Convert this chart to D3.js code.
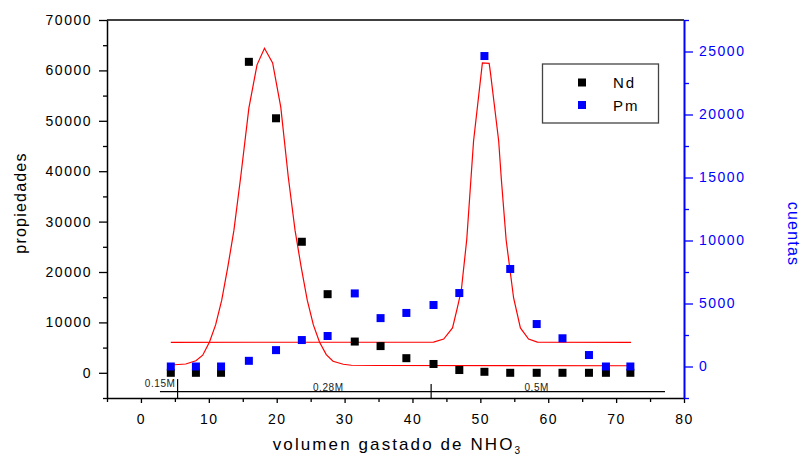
<!DOCTYPE html>
<html>
<head>
<meta charset="utf-8">
<script src="https://cdn.jsdelivr.net/npm/d3@7"></script>
<style>
  body { margin: 0; background: #fff; }
  text { font-family: "Liberation Sans", Arial, sans-serif; }
</style>
</head>
<body>
<script>
// volume of acid (x) for each fraction
const volumen = [4.4, 8.1, 11.8, 15.9, 19.9, 23.7, 27.5, 31.5, 35.3, 39.1, 43.1, 46.9, 50.6, 54.4, 58.3, 62.1, 66.0, 68.5, 72.1];
// Nd (left axis)
const ndVals = [0, 0, 0, 61700, 50500, 26000, 15600, 6200, 5300, 2900, 1750, 550, 200, 0, 0, 0, 0, 0, 0];
// Pm (right axis)
const pmVals = [0, 0, 0, 450, 1300, 2100, 2420, 5800, 3840, 4250, 4880, 5830, 24640, 7740, 3370, 2240, 910, 0, 0];

// fitted curves
const ndFitX = [4.4, 6.6, 8.1, 9.1, 10.1, 11.0, 11.9, 12.8, 13.7, 14.7, 15.9, 17.1, 18.2, 19.4, 20.6, 21.7, 22.7, 23.6, 24.5, 25.4, 26.3, 27.3, 28.3, 29.8, 31.0, 35.0, 72.2];
const ndFitY = [1550, 1750, 2400, 3500, 6100, 9500, 14400, 21000, 28300, 38900, 52500, 61100, 64400, 61500, 52700, 38900, 28300, 21000, 14400, 9500, 6100, 3600, 2300, 1700, 1500, 1450, 1400];
const pmFitX = [4.4, 43.1, 44.6, 45.9, 46.6, 47.2, 48.0, 49.0, 50.3, 51.3, 51.5, 52.7, 53.1, 53.8, 54.9, 55.9, 57.1, 58.4, 72.2];
const pmFitY = [1920, 1940, 2180, 3060, 4640, 6070, 10100, 17900, 24100, 24060, 23270, 17900, 14800, 10040, 5440, 3060, 2180, 1940, 1920];

// concentration steps drawn along the bottom
const concEdges = [2.8, 5.4, 42.75, 77.2];
const concLabels = ["0.15M", "0.28M", "0.5M"];
const concLabelX = [5.1, 27.6, 58.3];

const xTicks = [0, 10, 20, 30, 40, 50, 60, 70, 80];
const xMinor = [-5, 5, 15, 25, 35, 45, 55, 65, 75];
const leftTicks = [0, 10000, 20000, 30000, 40000, 50000, 60000, 70000];
const leftMinor = [-5000, 5000, 15000, 25000, 35000, 45000, 55000, 65000];
const rightTicks = [0, 5000, 10000, 15000, 20000, 25000];
const rightMinor = [-2500, 2500, 7500, 12500, 17500, 22500, 27500];

const width = 803, height = 457;
const plotL = 107, plotR = 684, plotT = 20, plotB = 398;
const blue = "#0000ff";
const fmt = d3.format("d");

const svg = d3.select("body").append("svg")
    .attr("width", width)
    .attr("height", height);

const x = d3.scaleLinear().domain([-5, 80]).range([plotL, plotR]);
const yL = d3.scaleLinear().domain([-5000, 70000]).range([plotB, plotT]);
const yR = d3.scaleLinear().domain([-2500, 27500]).range([plotB, plotT]);

// top frame line
svg.append("line")
    .attr("x1", plotL).attr("x2", plotR)
    .attr("y1", plotT).attr("y2", plotT)
    .attr("stroke", "#000").attr("stroke-width", 1.4);

function styleAxis(g, color, fs) {
    g.selectAll("path").attr("stroke", color).attr("stroke-width", 1.5);
    g.selectAll("line").attr("stroke", color).attr("stroke-width", 1.3);
    g.selectAll("text")
        .attr("fill", color)
        .style("font-size", fs + "px")
        .style("letter-spacing", "1.5px");
}

// bottom axis
const gx = svg.append("g").attr("transform", `translate(0,${plotB})`)
    .call(d3.axisBottom(x).tickValues(xTicks).tickFormat(fmt).tickSize(5).tickSizeOuter(0).tickPadding(11));
styleAxis(gx, "#000", 14);
const gxm = svg.append("g").attr("transform", `translate(0,${plotB})`)
    .call(d3.axisBottom(x).tickValues(xMinor).tickSize(4).tickFormat(""));
gxm.select(".domain").remove();
styleAxis(gxm, "#000", 14);

// left axis
const gl = svg.append("g").attr("transform", `translate(${plotL},0)`)
    .call(d3.axisLeft(yL).tickValues(leftTicks).tickFormat(fmt).tickSize(8).tickSizeOuter(0).tickPadding(7));
styleAxis(gl, "#000", 14);
const glm = svg.append("g").attr("transform", `translate(${plotL},0)`)
    .call(d3.axisLeft(yL).tickValues(leftMinor).tickSize(4).tickFormat(""));
glm.select(".domain").remove();
styleAxis(glm, "#000", 14);

// right axis
const gr = svg.append("g").attr("transform", `translate(${plotR},0)`)
    .call(d3.axisRight(yR).tickValues(rightTicks).tickFormat(fmt).tickSize(9).tickSizeOuter(0).tickPadding(6));
styleAxis(gr, blue, 14);
gr.select(".domain").attr("stroke-width", 2);
const grm = svg.append("g").attr("transform", `translate(${plotR},0)`)
    .call(d3.axisRight(yR).tickValues(rightMinor).tickSize(5).tickFormat(""));
grm.select(".domain").remove();
styleAxis(grm, blue, 14);

// axis titles
const xt = svg.append("text")
    .attr("x", (plotL + plotR) / 2 + 2).attr("y", 450)
    .attr("text-anchor", "middle")
    .style("font-size", "17px").style("letter-spacing", "2.1px");
xt.append("tspan").text("volumen gastado de NHO");
xt.append("tspan").text("3").attr("dy", 4).style("font-size", "10px");

svg.append("text")
    .attr("transform", "translate(26,203) rotate(-90)")
    .attr("text-anchor", "middle")
    .style("font-size", "16px").style("letter-spacing", "1.2px")
    .text("propiedades");

svg.append("text")
    .attr("transform", "translate(788,234) rotate(90)")
    .attr("text-anchor", "middle")
    .attr("fill", blue)
    .style("font-size", "16px").style("letter-spacing", "1.2px")
    .text("cuentas");

// concentration annotation
svg.append("line")
    .attr("x1", x(concEdges[0])).attr("x2", x(concEdges[3]))
    .attr("y1", yL(-3750)).attr("y2", yL(-3750))
    .attr("stroke", "#000").attr("stroke-width", 1.2);
svg.selectAll("line.edge")
    .data(concEdges.slice(1, 3))
    .join("line").attr("class", "edge")
    .attr("x1", d => x(d)).attr("x2", d => x(d))
    .attr("y1", (d, i) => yL(i === 0 ? -1250 : -2200))
    .attr("y2", yL(-5000))
    .attr("stroke", "#000").attr("stroke-width", 1.2);
svg.selectAll("text.conc")
    .data(concLabels)
    .join("text").attr("class", "conc")
    .attr("x", (d, i) => x(concLabelX[i]))
    .attr("y", (d, i) => i === 0 ? 386.5 : 391)
    .attr("text-anchor", (d, i) => i === 0 ? "end" : "middle")
    .attr("fill", "#222")
    .style("font-size", "10px").style("letter-spacing", "0.6px")
    .text(d => d);

// fitted curves
const lineL = d3.line().x(d => x(d[0])).y(d => yL(d[1]));
const lineR = d3.line().x(d => x(d[0])).y(d => yR(d[1]));
svg.append("path")
    .attr("d", lineL(ndFitX.map((v, i) => [v, ndFitY[i]])))
    .attr("fill", "none").attr("stroke", "#ff0000").attr("stroke-width", 1.2);
svg.append("path")
    .attr("d", lineR(pmFitX.map((v, i) => [v, pmFitY[i]])))
    .attr("fill", "none").attr("stroke", "#ff0000").attr("stroke-width", 1.2);

// points
const sq = 8;
svg.append("g").selectAll("rect")
    .data(volumen.map((v, i) => [v, ndVals[i]]))
    .join("rect")
    .attr("x", d => x(d[0]) - sq / 2).attr("y", d => yL(d[1]) - sq / 2)
    .attr("width", sq).attr("height", sq)
    .attr("fill", "#000");
svg.append("g").selectAll("rect")
    .data(volumen.map((v, i) => [v, pmVals[i]]))
    .join("rect")
    .attr("x", d => x(d[0]) - sq / 2).attr("y", d => yR(d[1]) - sq / 2)
    .attr("width", sq).attr("height", sq)
    .attr("fill", blue);

// legend
const lg = svg.append("g");
lg.append("rect")
    .attr("x", 542.5).attr("y", 64).attr("width", 116).attr("height", 59)
    .attr("fill", "#fff").attr("stroke", "#444").attr("stroke-width", 1.3);
const legendItems = [["Nd", "#000"], ["Pm", blue]];
legendItems.forEach(([name, c], i) => {
    lg.append("rect")
        .attr("x", 582 - sq / 2).attr("y", 82.5 + i * 22.5 - sq / 2)
        .attr("width", sq).attr("height", sq).attr("fill", c);
    lg.append("text")
        .attr("x", 613).attr("y", 88 + i * 22.5)
        .style("font-size", "15px").style("letter-spacing", "2px")
        .text(name);
});
</script>
</body>
</html>
